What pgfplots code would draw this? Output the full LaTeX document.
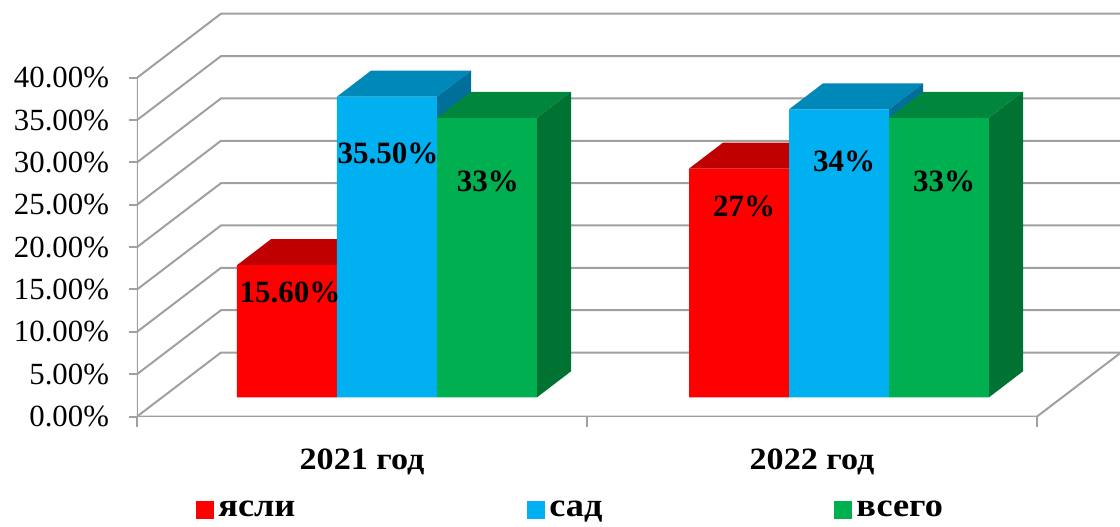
\documentclass[border=0pt]{standalone}
\usepackage{fontspec}
\setmainfont{Liberation Serif}
\newfontfamily\widefont[FakeStretch=1.1]{Liberation Serif}
\usepackage{pgfplots}
\usepackage{pgfplotstable}
\pgfplotsset{compat=1.18}

\definecolor{cRed}{HTML}{FF0000}
\definecolor{cRedTop}{HTML}{C00000}
\definecolor{cRedSide}{HTML}{A00000}
\definecolor{cBlue}{HTML}{00B0F0}
\definecolor{cBlueTop}{HTML}{0088B8}
\definecolor{cBlueSide}{HTML}{00709A}
\definecolor{cGreen}{HTML}{00B050}
\definecolor{cGreenTop}{HTML}{00873D}
\definecolor{cGreenSide}{HTML}{007231}
\definecolor{cGrid}{HTML}{A0A0A0}

% x = position of the bar centre (layout), v = value in percent
\pgfplotstableread{
x v
287 15.6
739 27
}\tYasli
\pgfplotstableread{
x v
387 35.5
839 34
}\tSad
\pgfplotstableread{
x v
487 33
939 33
}\tVsego

% top face of a 3D bar (drawn at the bar's top-front centre)
\pgfdeclareplotmark{bartop}{%
  \pgfpathmoveto{\pgfqpoint{-25pt}{0pt}}%
  \pgfpathlineto{\pgfqpoint{25pt}{0pt}}%
  \pgfpathlineto{\pgfqpoint{42pt}{13pt}}%
  \pgfpathlineto{\pgfqpoint{-8pt}{13pt}}%
  \pgfpathclose
  \pgfusepathqfill}
% right side face of a 3D bar, height from the value
\pgfdeclareplotmark{barside}{%
  \pgfmathsetlengthmacro\barh{\barv*4.235pt}%
  \pgfpathmoveto{\pgfqpoint{25pt}{0pt}}%
  \pgfpathlineto{\pgfqpoint{42pt}{13pt}}%
  \pgfpathlineto{\pgfpoint{42pt}{13pt-\barh}}%
  \pgfpathlineto{\pgfpoint{25pt}{-\barh}}%
  \pgfpathclose
  \pgfusepathqfill}

\begin{document}
\begin{tikzpicture}
\begin{axis}[
  x=0.5pt, y=4.235pt,
  xmin=137, xmax=1120, ymin=-2.27, ymax=46.91,
  axis x line*=bottom, axis y line*=left,
  axis line style={draw=none},
  xtick={137,587,1037}, xticklabels={},
  ytick={-2.27,2.73,7.73,12.73,17.73,22.73,27.73,32.73,37.73},
  yticklabels={0.00\%,5.00\%,10.00\%,15.00\%,20.00\%,25.00\%,30.00\%,35.00\%,40.00\%},
  tick align=outside,
  major tick length=4pt,
  xtick style={/pgfplots/major tick length=5pt},
  tick style={cGrid, line width=1pt},
  yticklabel style={font=\fontsize{15.4}{18}\selectfont, xshift=-6.5pt},
  clip mode=individual,
  legend columns=3,
  legend entries={ясли,сад,всего},
  legend style={draw=none, fill=none, inner sep=0pt,
    at={(0.06,0)}, anchor=west, yshift=-46.75pt,
    font=\widefont\bfseries\fontsize{16.5}{18}\selectfont,
    /tikz/every even column/.append style={column sep=114pt}},
]
% back wall grid lines with side-wall diagonals
\addplot[cGrid, line width=1pt, forget plot] coordinates {(137,-2.27)(221,5.29)(1120,5.29)};
\addplot[cGrid, line width=1pt, forget plot] coordinates {(137,2.73)(221,10.29)(1120,10.29)};
\addplot[cGrid, line width=1pt, forget plot] coordinates {(137,7.73)(221,15.29)(1120,15.29)};
\addplot[cGrid, line width=1pt, forget plot] coordinates {(137,12.73)(221,20.29)(1120,20.29)};
\addplot[cGrid, line width=1pt, forget plot] coordinates {(137,17.73)(221,25.29)(1120,25.29)};
\addplot[cGrid, line width=1pt, forget plot] coordinates {(137,22.73)(221,30.29)(1120,30.29)};
\addplot[cGrid, line width=1pt, forget plot] coordinates {(137,27.73)(221,35.29)(1120,35.29)};
\addplot[cGrid, line width=1pt, forget plot] coordinates {(137,32.73)(221,40.29)(1120,40.29)};
\addplot[cGrid, line width=1pt, forget plot] coordinates {(137,37.73)(221,45.29)(1120,45.29)};
% floor front edge and right edge, front value axis
\addplot[cGrid, line width=1pt, forget plot] coordinates {(137,-2.27)(1037,-2.27)(1121,5.29)};
\addplot[cGrid, line width=1pt, forget plot] coordinates {(137,-2.27)(137,37.73)};

% ясли
\addplot[ybar, bar width=100, bar shift=0pt, fill=cRed, draw=none,
  legend image code/.code={\fill[cRed] (0pt,-4.5pt) rectangle (9pt,4.5pt);}]
  table[x=x,y=v]{\tYasli};
\addplot[only marks, mark=bartop, mark options={fill=cRedTop, draw=none}, forget plot]
  table[x=x,y=v]{\tYasli};
\addplot[only marks, mark=barside, mark options={fill=cRedSide, draw=none},
  visualization depends on={\thisrow{v} \as \barv}, forget plot]
  table[x=x,y=v]{\tYasli};
% сад
\addplot[ybar, bar width=100, bar shift=0pt, fill=cBlue, draw=none,
  legend image code/.code={\fill[cBlue] (0pt,-4.5pt) rectangle (9pt,4.5pt);}]
  table[x=x,y=v]{\tSad};
\addplot[only marks, mark=bartop, mark options={fill=cBlueTop, draw=none}, forget plot]
  table[x=x,y=v]{\tSad};
\addplot[only marks, mark=barside, mark options={fill=cBlueSide, draw=none},
  visualization depends on={\thisrow{v} \as \barv}, forget plot]
  table[x=x,y=v]{\tSad};
% всего
\addplot[ybar, bar width=100, bar shift=0pt, fill=cGreen, draw=none,
  legend image code/.code={\fill[cGreen] (0pt,-4.5pt) rectangle (9pt,4.5pt);}]
  table[x=x,y=v]{\tVsego};
\addplot[only marks, mark=bartop, mark options={fill=cGreenTop, draw=none}, forget plot]
  table[x=x,y=v]{\tVsego};
\addplot[only marks, mark=barside, mark options={fill=cGreenSide, draw=none},
  visualization depends on={\thisrow{v} \as \barv}, forget plot]
  table[x=x,y=v]{\tVsego};

% data labels
\begin{scope}[every node/.style={font=\bfseries\fontsize{15.5}{18}\selectfont, anchor=base, inner sep=0pt}]
\node at (axis cs:290,11.25) {15.60\%};
\node at (axis cs:388,27.55) {35.50\%};
\node at (axis cs:488,24.35) {33\%};
\node at (axis cs:744,21.4) {27\%};
\node at (axis cs:844,26.7) {34\%};
\node at (axis cs:944,24.35) {33\%};
\end{scope}
% category labels
\node[font=\widefont\bfseries\fontsize{15.5}{18}\selectfont, anchor=base, inner sep=0pt] at (axis cs:362,-8.47) {2021 год};
\node[font=\widefont\bfseries\fontsize{15.5}{18}\selectfont, anchor=base, inner sep=0pt] at (axis cs:812,-8.47) {2022 год};
\end{axis}
\pgfresetboundingbox
\path ([xshift=-68.5pt,yshift=-54.75pt]current axis.south west) rectangle (current axis.north east);
\end{tikzpicture}
\end{document}
